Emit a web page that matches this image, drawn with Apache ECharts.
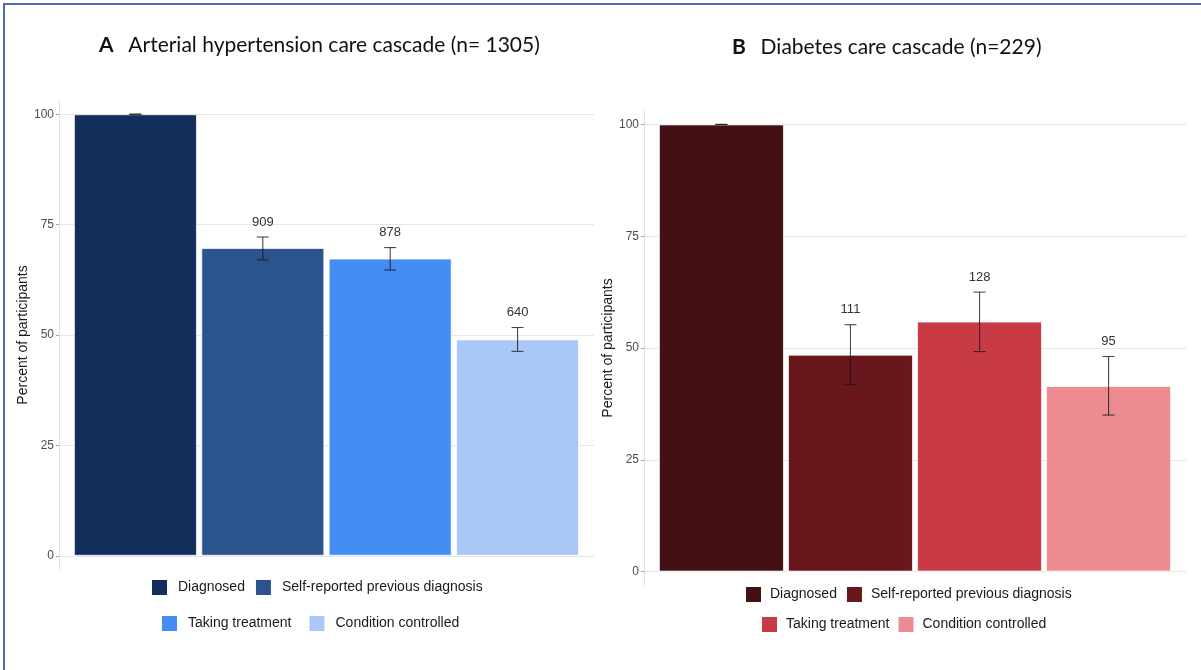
<!DOCTYPE html>
<html>
<head>
<meta charset="utf-8">
<script src="https://cdn.jsdelivr.net/npm/echarts@6/dist/echarts.min.js"></script>
<style>html,body{margin:0;padding:0;background:#fff;}#chart{width:1201px;height:670px;}</style>
</head>
<body>
<div id="chart"></div>
<script>
// ---- data ----
const stages = ['Diagnosed', 'Self-reported previous diagnosis', 'Taking treatment', 'Condition controlled'];
const yTicks = [0, 25, 50, 75, 100];

const titleA = 'Arterial hypertension care cascade (n= 1305)';
const pctA = [100, 69.7, 67.3, 49.0];
const ciLowA = [100, 67.0, 64.7, 46.3];
const ciHighA = [100, 72.2, 69.8, 51.7];
const countsA = ['', '909', '878', '640'];
const colorsA = ['#142e5b', '#2b548f', '#458cf3', '#a9c8f7'];

const titleB = 'Diabetes care cascade (n=229)';
const pctB = [100, 48.5, 55.9, 41.5];
const ciLowB = [100, 41.8, 49.2, 35.0];
const ciHighB = [100, 55.2, 62.5, 48.1];
const countsB = ['', '111', '128', '95'];
const colorsB = ['#431014', '#6a161d', '#c83b45', '#ec8b90'];

// ---- chart ----
const FONT = 'Liberation Sans, Arial, sans-serif';
const chart = echarts.init(document.getElementById('chart'));

function panelSeries(idx, pct, lo, hi, counts, colors, barW) {
  const out = [];
  stages.forEach((s, i) => {
    const ser = {
      type: 'bar', name: s, xAxisIndex: idx, yAxisIndex: idx,
      barWidth: barW, barGap: '-100%',
      data: [[i + 1, pct[i]]],
      itemStyle: { color: colors[i], borderColor: 'rgba(255,255,255,0.7)', borderWidth: 1 },
      silent: true, z: 3
    };
    if (i === 0) {
      ser.markLine = {
        silent: true, symbol: 'none', label: { show: false },
        lineStyle: { color: '#e6e6e6', width: 1, type: 'solid' },
        data: yTicks.map(v => ({ yAxis: v })), z: 1
      };
    }
    out.push(ser);
  });
  out.push({
    type: 'custom', xAxisIndex: idx, yAxisIndex: idx, silent: true, z: 10,
    data: stages.map((s, i) => [i + 1, lo[i], hi[i], counts[i]]),
    renderItem: function (params, api) {
      const x = api.value(0);
      const pLo = api.coord([x, api.value(1)]);
      const pHi = api.coord([x, api.value(2)]);
      const cap = 6;
      const style = { stroke: 'rgba(25,25,25,0.8)', lineWidth: 1.1 };
      const children = [
        { type: 'line', shape: { x1: pLo[0], y1: pLo[1], x2: pHi[0], y2: pHi[1] }, style: style },
        { type: 'line', shape: { x1: pHi[0] - cap, y1: pHi[1], x2: pHi[0] + cap, y2: pHi[1] }, style: style },
        { type: 'line', shape: { x1: pLo[0] - cap, y1: pLo[1], x2: pLo[0] + cap, y2: pLo[1] }, style: style }
      ];
      const lab = api.value(3);
      if (lab) {
        children.push({ type: 'text', style: { text: String(lab), x: pHi[0], y: pHi[1] - 15, align: 'center', verticalAlign: 'middle', fill: '#333', font: '13px ' + FONT } });
      }
      return { type: 'group', children: children };
    }
  });
  return out;
}

function yAxisCfg(idx) {
  return {
    type: 'value', gridIndex: idx, min: -3, max: 103,
    name: 'Percent of participants', nameLocation: 'middle', nameRotate: 90, nameGap: 24,
    nameTextStyle: { fontFamily: FONT, fontSize: 14, color: '#1a1a1a' },
    axisLine: { show: true, lineStyle: { color: '#e0e0e0', width: 1 } },
    axisTick: { show: true, length: 3, customValues: yTicks, lineStyle: { color: '#a0a0a0' } },
    axisLabel: { customValues: yTicks, color: '#4d4d4d', fontFamily: FONT, fontSize: 12, margin: 5 },
    splitLine: { show: false }
  };
}

function xAxisCfg(idx) {
  return { type: 'value', gridIndex: idx, min: 0.4, max: 4.6, show: false };
}

function legendRow(names, colors, left, top, gap, textPad) {
  return {
    data: names.map((n, i) => ({ name: n, itemStyle: { color: colors[i], borderWidth: 0 } })),
    left: left, top: top, orient: 'horizontal', padding: 0,
    icon: 'rect', itemWidth: 15, itemHeight: 15, itemGap: gap,
    selectedMode: false,
    textStyle: { fontFamily: FONT, fontSize: 14, color: '#1a1a1a', padding: [0, 0, 0, textPad] }
  };
}

function titleCfg(letter, text, left, top) {
  return {
    text: '{b|' + letter + '}  ' + text, left: left, top: top, padding: 0,
    textStyle: { fontFamily: 'Lato', fontSize: 21, fontWeight: 'normal', color: '#111',
      rich: { b: { fontFamily: 'Lato', fontSize: 21, fontWeight: 'bold', color: '#111', padding: [0, 4, 0, 0] } } }
  };
}

const option = {
  backgroundColor: '#fff',
  animation: false,
  title: [
    titleCfg('A', titleA, 99, 35),
    titleCfg('B', titleB, 732, 37)
  ],
  grid: [
    { left: 59, right: 607, top: 101, bottom: 101 },
    { left: 644, right: 15, top: 111, bottom: 85 }
  ],
  xAxis: [xAxisCfg(0), xAxisCfg(1)],
  yAxis: [yAxisCfg(0), yAxisCfg(1)],
  legend: [
    legendRow(stages.slice(0, 2), colorsA.slice(0, 2), 152, 580, 11, 6),
    legendRow(stages.slice(2, 4), colorsA.slice(2, 4), 162, 616, 18, 6),
    legendRow(stages.slice(0, 2), colorsB.slice(0, 2), 746, 587, 10, 4),
    legendRow(stages.slice(2, 4), colorsB.slice(2, 4), 762, 617, 9, 4)
  ],
  graphic: [
    { type: 'rect', shape: { x: 4, y: 4, width: 1400, height: 900 }, style: { fill: 'none', stroke: '#4a6db0', lineWidth: 2 }, z: 100, silent: true }
  ],
  series: []
};

option.series = panelSeries(0, pctA, ciLowA, ciHighA, countsA, colorsA, 123)
  .concat(panelSeries(1, pctB, ciLowB, ciHighB, countsB, colorsB, 125));

chart.setOption(option);
</script>
</body>
</html>
